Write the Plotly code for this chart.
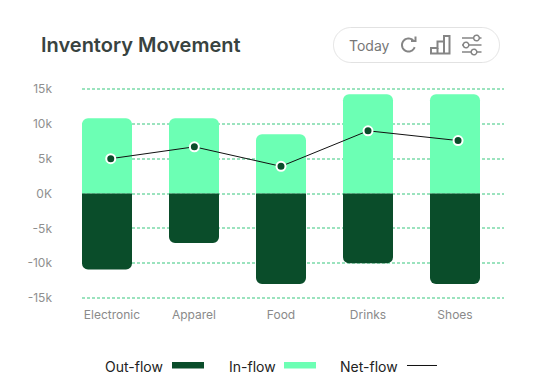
import numpy as np
import plotly.graph_objects as go

categories = ["Electronic", "Apparel", "Food", "Drinks", "Shoes"]
bar_pos = [0, 1, 2, 3, 4]
label_pos = [0.057, 1, 2, 3, 4]
net_pos = [0.043, 1.004, 2, 3, 4.035]
in_flow = [10800, 10800, 8500, 14250, 14250]
out_flow = [-10900, -7100, -13000, -10000, -13000]
net_flow = [5000, 6700, 3900, 9000, 7600]
y_ticks = [15000, 10000, 5000, 0, -5000, -10000, -15000]
y_labels = ["15k", "10k", "5k", "0K", "-5k", "-10k", "-15k"]

W, H = 542, 389
L, R, T, B = 82, 38, 87, 89
PW, PH = W - L - R, H - T - B
FONT = "Inter, 'Noto Sans', sans-serif"
DARK, LIGHT = "#0A4D2A", "#6CFFB4"
GRAY = "#858585"

def fx(p): return (p - L) / PW
def fy(p): return 1 - (p - T) / PH
def path(pts, close=False):
    s = "M" + " L".join(f"{fx(a):.5f},{fy(b):.5f}" for a, b in pts)
    return s + (" Z" if close else "")
def arc(cx, cy, r, a0, a1, n=40):
    return [(cx + r * np.cos(t), cy + r * np.sin(t)) for t in np.radians(np.linspace(a0, a1, n))]

shapes, anns = [], []
def add_path(pts, close=False, color=GRAY, width=2, fill=None):
    d = dict(type="path", xref="paper", yref="paper", path=path(pts, close),
             line=dict(color=color, width=width), layer="above")
    if fill: d["fillcolor"] = fill
    shapes.append(d)
def text(x, y, s, size, color, anchor="left", weight=None):
    f = dict(family=FONT, size=size, color=color)
    if weight: f["weight"] = weight
    anns.append(dict(x=fx(x), y=fy(y), xref="paper", yref="paper", text=s, showarrow=False,
                     xanchor=anchor, yanchor="middle", font=f, borderpad=0, borderwidth=0))

# pill
r = 17.5
x0, x1, y0, y1 = 333.5, 499.5, 27.5, 62.5
pill = arc(x0 + r, y0 + r, r, 180, 270) + arc(x1 - r, y0 + r, r, 270, 360) + \
       arc(x1 - r, y1 - r, r, 0, 90) + arc(x0 + r, y1 - r, r, 90, 180)
add_path(pill, True, "#E2E2E2", 1)
text(349, 45, "Today", 14, "#777777")
# refresh icon
add_path(arc(408.5, 45, 6.5, 20, 320), False, GRAY, 2)
add_path([(415.5, 36.5), (415.5, 41), (411, 41)], False, GRAY, 2)
# bars icon
add_path([(431, 53.5), (431, 48), (437.5, 48), (437.5, 41.5), (444, 41.5), (444, 36), (449.5, 36), (449.5, 53.5)],
         True, GRAY, 2)
add_path([(437.5, 48), (437.5, 53.5)], False, GRAY, 2)
add_path([(444, 41.5), (444, 53.5)], False, GRAY, 2)
# sliders icon
for yy, cx in [(38, 476.5), (45, 466), (52, 474)]:
    add_path([(462, yy), (cx - 3, yy)], False, GRAY, 1.5)
    add_path([(cx + 3, yy), (481.5, yy)], False, GRAY, 1.5)
    add_path(arc(cx, yy, 2.8, 0, 360, 24), True, GRAY, 1.5)

# legend
text(105, 366, "Out-flow", 14, "#222222")
shapes.append(dict(type="rect", xref="paper", yref="paper", x0=fx(172), x1=fx(204), y0=fy(368.5), y1=fy(362),
                   fillcolor=DARK, line=dict(width=0), layer="above"))
text(229, 366, "In-flow", 14, "#222222")
shapes.append(dict(type="rect", xref="paper", yref="paper", x0=fx(284), x1=fx(316), y0=fy(368.5), y1=fy(362),
                   fillcolor=LIGHT, line=dict(width=0), layer="above"))
text(340, 366, "Net-flow", 14, "#222222")
add_path([(407, 365.5), (437, 365.5)], False, "#111111", 1)

fig = go.Figure()
fig.add_bar(x=bar_pos, y=in_flow, name="In-flow", marker=dict(color=LIGHT, line=dict(width=0)), width=50 / 87)
fig.add_bar(x=bar_pos, y=out_flow, name="Out-flow", marker=dict(color=DARK, line=dict(width=0)), width=50 / 87)
fig.add_scatter(x=net_pos, y=net_flow, name="Net-flow", mode="lines+markers",
                line=dict(color="#111111", width=1),
                marker=dict(color=DARK, size=9, line=dict(color="white", width=2)))

fig.update_layout(
    width=W, height=H, margin=dict(l=L, r=R, t=T, b=B, autoexpand=False),
    paper_bgcolor="white", plot_bgcolor="rgba(0,0,0,0)",
    barmode="relative", barcornerradius=6, showlegend=False,
    title=dict(text="Inventory Movement", x=41 / W, xanchor="left", y=1 - 45 / H, yanchor="middle",
               font=dict(family=FONT, size=20, color="#38433F", weight=600)),
    shapes=shapes, annotations=anns,
    xaxis=dict(range=[-25 / 87, (L + PW - 107) / 87], showgrid=False, zeroline=False,
               showline=False, ticks="", ticklabelstandoff=6, tickvals=label_pos, ticktext=categories,
               tickfont=dict(family=FONT, size=12, color="#8A8A8A")),
    yaxis=dict(range=[-15287, 15287], tickvals=y_ticks, ticktext=y_labels, zeroline=False, showline=False,
               ticks="", ticklabelstandoff=29, showgrid=True, gridcolor="#9BE3BE", gridwidth=2,
               griddash="3px,2px", tickfont=dict(family=FONT, size=12, color="#8F8F8F")),
)
fig.write_html("out.html", config=dict(displayModeBar=False),
               post_script="document.body.style.margin='0';document.documentElement.style.overflow='hidden';")
